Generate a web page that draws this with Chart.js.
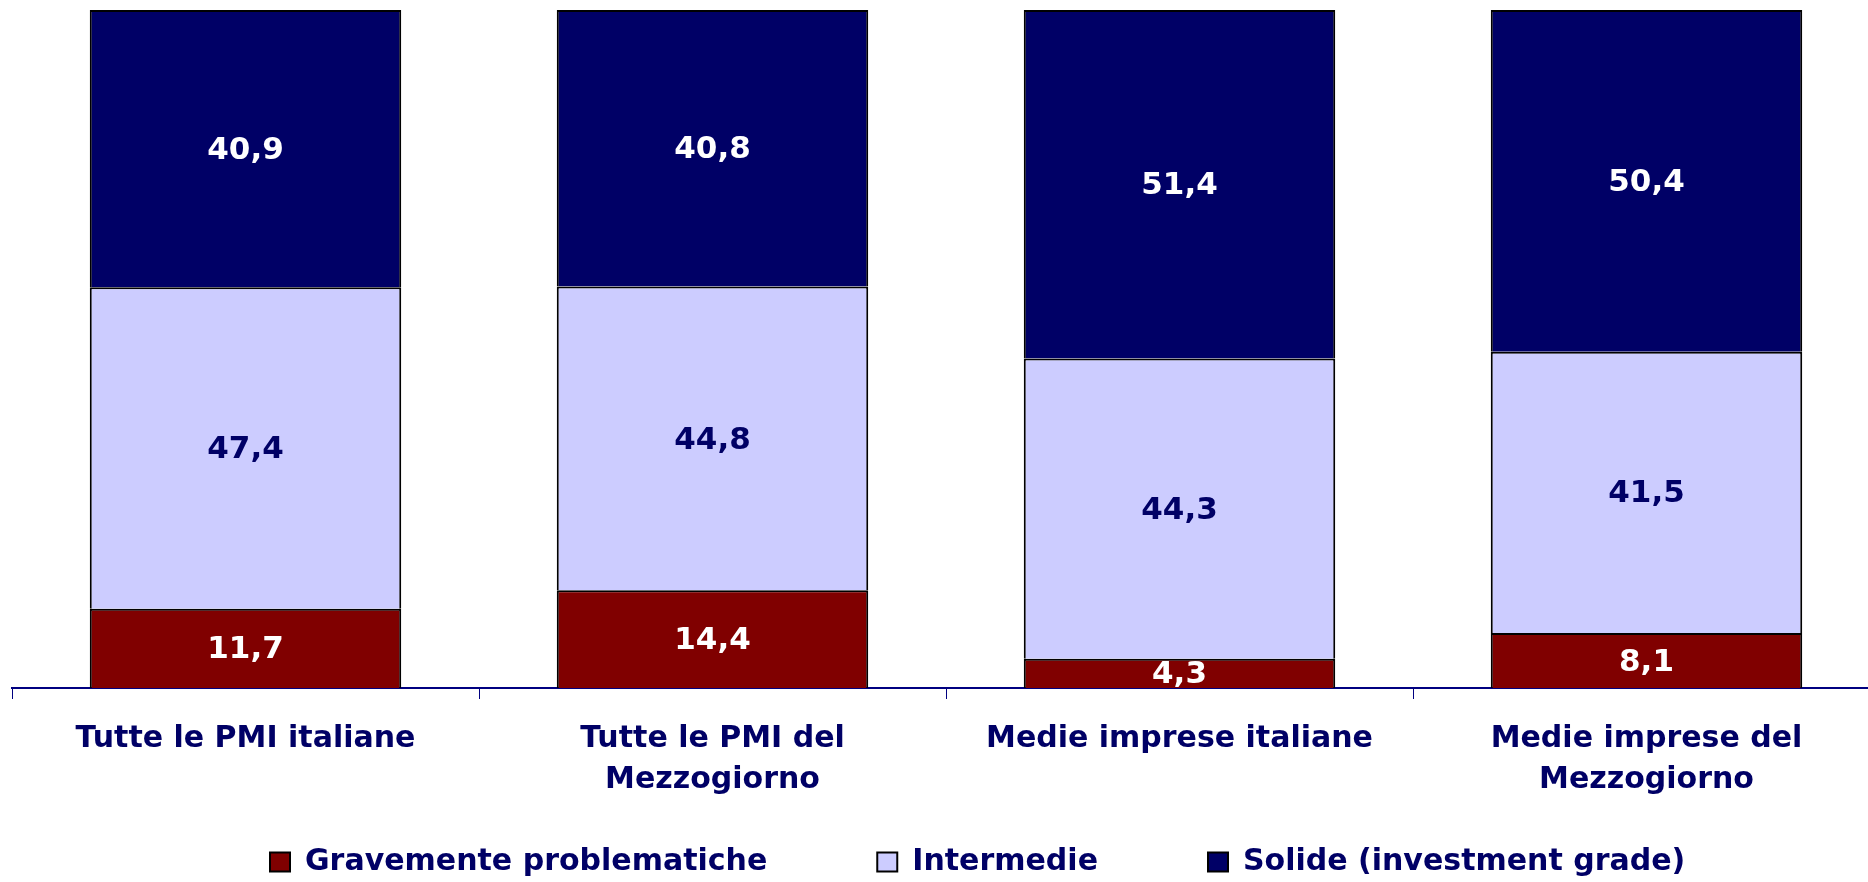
<!DOCTYPE html>
<html>
<head>
<meta charset="utf-8">
<script src="https://cdn.jsdelivr.net/npm/chart.js@4/dist/chart.umd.min.js"></script>
<style>
html,body{margin:0;padding:0;overflow:hidden;background:#ffffff;}
#wrap{position:relative;width:1880px;height:968px;}
</style>
</head>
<body>
<div id="wrap"><canvas id="c"></canvas></div>
<script>
// ---- data ----
const categories = [
  ['Tutte le PMI italiane'],
  ['Tutte le PMI del', 'Mezzogiorno'],
  ['Medie imprese italiane'],
  ['Medie imprese del', 'Mezzogiorno']
];
const seriesNames = ['Gravemente problematiche', 'Intermedie', 'Solide (investment grade)'];
const gravemente = [11.7, 14.4, 4.3, 8.1];
const intermedie = [47.4, 44.8, 44.3, 41.5];
const solide = [40.9, 40.8, 51.4, 50.4];

// ---- styles ----
const fillColors = ['#800000', '#CCCCFF', '#000066'];
const labelColors = ['#FFFFFF', '#000066', '#FFFFFF'];
const textNavy = '#000066';
const FONT = 'DejaVu Sans';
const LEGEND_START = 270;
const LEGEND_TEXT_Y = 862;

const seriesValues = [gravemente, intermedie, solide];
const datasets = seriesValues.map((vals, i) => ({
  label: seriesNames[i],
  data: vals,
  backgroundColor: fillColors[i],
  borderColor: '#000000',
  borderWidth: 2,
  barPercentage: 0.667,
  categoryPercentage: 1.0,
  labelColor: labelColors[i]
}));

const fmt = v => v.toFixed(1).replace('.', ',');

const segLabels = {
  id: 'segLabels',
  afterDatasetsDraw(chart) {
    const ctx = chart.ctx;
    chart.data.datasets.forEach((ds, i) => {
      const meta = chart.getDatasetMeta(i);
      meta.data.forEach((el, j) => {
        const p = el.getProps(['x', 'y', 'base'], true);
        ctx.save();
        ctx.font = 'bold 31px "' + FONT + '"';
        ctx.fillStyle = ds.labelColor;
        ctx.textAlign = 'center';
        ctx.textBaseline = 'middle';
        ctx.fillText(fmt(ds.data[j]), p.x, (p.y + p.base) / 2 + 2);
        ctx.restore();
      });
    });
  }
};

// place the legend row where the reference has it
const legendPlace = {
  id: 'legendPlace',
  afterLayout(chart) {
    const lg = chart.legend;
    if (!lg || !lg.lineWidths) return;
    const P = lg.options.labels.padding;
    const fs = lg.options.labels.font.size;
    const x0 = (lg.left + P + lg.right - lg.lineWidths[0]) / 2;
    const d = LEGEND_START - x0;
    lg.left += d;
    lg.right += d;
    const newTop = LEGEND_TEXT_Y - fs / 2 - P;
    const dy = newTop - lg.top;
    lg.top += dy;
    lg.bottom += dy;
  }
};

new Chart(document.getElementById('c'), {
  type: 'bar',
  data: { labels: categories, datasets: datasets },
  plugins: [segLabels, legendPlace],
  options: {
    responsive: true,
    maintainAspectRatio: false,
    animation: false,
    layout: { padding: { left: 12, top: 10, right: 0, bottom: 0 } },
    plugins: {
      legend: {
        position: 'bottom',
        labels: {
          font: { family: FONT, weight: 'bold', size: 30 },
          color: textNavy,
          boxWidth: 20,
          boxHeight: 19,
          padding: 110
        }
      },
      tooltip: { enabled: false }
    },
    scales: {
      x: {
        stacked: true,
        offset: true,
        grid: {
          display: true,
          drawOnChartArea: false,
          drawTicks: true,
          tickLength: 11,
          color: '#000080',
          lineWidth: 1,
          offset: true
        },
        border: { display: true, color: '#000080', width: 2 },
        ticks: {
          font: { family: FONT, weight: 'bold', size: 30, lineHeight: 1.367 },
          color: textNavy,
          padding: 20,
          maxRotation: 0,
          minRotation: 0,
          autoSkip: false
        },
        afterFit(scale) { scale.height = 130; }
      },
      y: {
        stacked: true,
        display: false,
        min: 0,
        max: 100
      }
    }
  }
});
</script>
</body>
</html>
